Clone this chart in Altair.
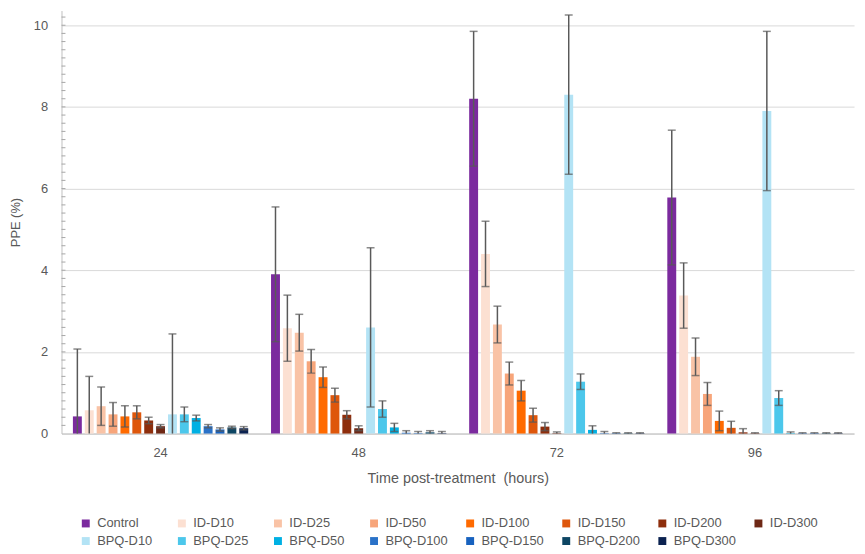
import altair as alt
import pandas as pd

# ---- data ----
times = ["24", "48", "72", "96"]
series = ["Control", "ID-D10", "ID-D25", "ID-D50", "ID-D100", "ID-D150", "ID-D200", "ID-D300",
          "BPQ-D10", "BPQ-D25", "BPQ-D50", "BPQ-D100", "BPQ-D150", "BPQ-D200", "BPQ-D300"]
colors = ["#7B2A9E", "#FCE0D2", "#F9C3A6", "#F7A57A", "#FF6A00", "#DE570C", "#8E2E0C", "#6E2815",
          "#B3E3F5", "#4CC7EB", "#00B0E3", "#2A72C8", "#1862BF", "#0D4563", "#0B2250"]

ppe_24 = [0.42, 0.57, 0.67, 0.47, 0.42, 0.52, 0.32, 0.18, 0.47, 0.47, 0.38, 0.18, 0.10, 0.15, 0.13]
err_24 = [1.65, 0.83, 0.47, 0.29, 0.26, 0.16, 0.08, 0.04, 1.97, 0.18, 0.07, 0.04, 0.04, 0.03, 0.04]
ppe_48 = [3.90, 2.58, 2.47, 1.77, 1.38, 0.94, 0.46, 0.13, 2.60, 0.60, 0.15, 0.02, 0.01, 0.03, 0.01]
err_48 = [1.65, 0.81, 0.45, 0.29, 0.25, 0.17, 0.10, 0.06, 1.95, 0.20, 0.10, 0.05, 0.04, 0.04, 0.04]
ppe_72 = [8.20, 4.40, 2.67, 1.47, 1.05, 0.45, 0.17, 0.01, 8.30, 1.27, 0.09, 0.01, 0.01, 0.01, 0.01]
err_72 = [1.65, 0.80, 0.45, 0.28, 0.25, 0.17, 0.10, 0.03, 1.95, 0.19, 0.10, 0.04, 0.01, 0.01, 0.01]
ppe_96 = [5.78, 3.38, 1.88, 0.97, 0.31, 0.14, 0.03, 0.01, 7.90, 0.87, 0.01, 0.01, 0.01, 0.01, 0.01]
err_96 = [1.65, 0.80, 0.46, 0.28, 0.24, 0.16, 0.09, 0.01, 1.95, 0.18, 0.03, 0.01, 0.01, 0.01, 0.01]

minor_ticks = [round(0.2 * i, 1) for i in range(1, 52)]

values = {"24": ppe_24, "48": ppe_48, "72": ppe_72, "96": ppe_96}
errors = {"24": err_24, "48": err_48, "72": err_72, "96": err_96}

rows = []
for t in times:
    for s, v, e in zip(series, values[t], errors[t]):
        rows.append({"time": t, "series": s, "ppe": v,
                     "hi": v + e, "lo": max(v - e, 0.0), "haslo": (v - e) > 0})
df = pd.DataFrame(rows)

YMAX = 10.36
FONT = "Liberation Sans"
GREY = "#595959"

xenc = alt.X("time:N", sort=times, scale=alt.Scale(paddingInner=0, paddingOuter=0),
             axis=alt.Axis(title="Time post-treatment\u00a0 (hours)", labelAngle=0, ticks=False,
                           labelPadding=13, titlePadding=12, domainColor="#BFBFBF",
                           labelFontSize=13, titleFontSize=14.5, labelColor=GREY, titleColor=GREY,
                           titleFontWeight="normal", labelFont=FONT, titleFont=FONT))
xoff = alt.XOffset("series:N", sort=series, scale=alt.Scale(paddingInner=0.25, paddingOuter=0.96))
yscale = alt.Scale(domain=[0, YMAX], nice=False, zero=True)

bars = alt.Chart(df).mark_bar().encode(
    x=xenc,
    xOffset=xoff,
    y=alt.Y("ppe:Q", scale=yscale,
            axis=alt.Axis(title="PPE (%)", values=[0, 2, 4, 6, 8, 10], ticks=False,
                          labelPadding=14, titlePadding=11, domain=True, domainColor="#BFBFBF",
                          gridColor="#D9D9D9", labelFontSize=13, titleFontSize=13,
                          labelColor=GREY, titleColor=GREY, titleFontWeight="normal",
                          labelFont=FONT, titleFont=FONT)),
    color=alt.Color("series:N", sort=series,
                    scale=alt.Scale(domain=series, range=colors),
                    legend=alt.Legend(title=None, orient="none", legendX=18, legendY=511,
                                      direction="horizontal", columns=8, symbolType="square",
                                      symbolSize=64, symbolStrokeWidth=0, labelFontSize=13,
                                      labelColor=GREY, labelFont=FONT, labelOffset=5,
                                      gridAlign="all", columnPadding=16, rowPadding=4)),
)

stems = alt.Chart(df).mark_rule(color=GREY, strokeWidth=1.5).encode(
    x=alt.X("time:N", sort=times), xOffset=xoff,
    y=alt.Y("lo:Q", scale=yscale), y2="hi:Q")

caps_hi = alt.Chart(df).mark_tick(color=GREY, size=8, thickness=1.5).encode(
    x=alt.X("time:N", sort=times), xOffset=xoff,
    y=alt.Y("hi:Q", scale=yscale))

caps_lo = alt.Chart(df).transform_filter("datum.haslo").mark_tick(
    color=GREY, size=8, thickness=1.5).encode(
    x=alt.X("time:N", sort=times), xOffset=xoff,
    y=alt.Y("lo:Q", scale=yscale))

minor = alt.Chart(pd.DataFrame({"v": minor_ticks})).transform_filter(
    f"datum.v <= {YMAX}").mark_rule(color="#A6A6A6", strokeWidth=1).encode(
    y=alt.Y("v:Q", scale=yscale), x=alt.value(0), x2=alt.value(4))

chart = alt.layer(bars, stems, caps_hi, caps_lo, minor).properties(
    width=800, height=427,
    autosize=alt.AutoSizeParams(type="none"),
    padding={"left": 54, "top": 0, "right": 3, "bottom": 117},
).configure_view(stroke=None).configure_axisX(grid=False)

chart.save("out.html", embed_options={"renderer": "svg", "actions": False})
